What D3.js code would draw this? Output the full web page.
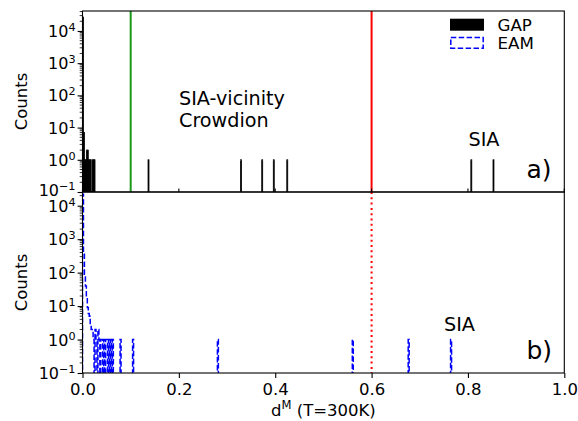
<!DOCTYPE html>
<html>
<head>
<meta charset="utf-8">
<script src="https://cdn.jsdelivr.net/npm/d3@7"></script>
<style>
  html, body { margin: 0; padding: 0; background: #fff; }
  svg { display: block; font-family: "DejaVu Sans", sans-serif; }
</style>
</head>
<body>
<svg id="chart" width="578" height="421"></svg>
<script>
// Histogram bins of the distance metric d^M (left bin edge, count)
const binWidth = 0.002;

const gapEdges  = [0.000, 0.002, 0.004, 0.006, 0.008, 0.010, 0.012, 0.014,
                   0.016, 0.020, 0.022, 0.024,
                   0.136, 0.328, 0.372, 0.396, 0.424, 0.806, 0.852];
const gapCounts = [27000, 7, 1, 1, 2, 2, 1, 1,
                   1, 1, 1, 1,
                   1, 1, 1, 1, 1, 1, 1];

const eamEdges  = [0.000, 0.002, 0.004, 0.006, 0.008, 0.010, 0.012, 0.014,
                   0.016, 0.018, 0.020, 0.022, 0.026, 0.028, 0.032, 0.034,
                   0.038, 0.040, 0.044, 0.048, 0.050, 0.054, 0.058, 0.062,
                   0.078, 0.104, 0.280, 0.560, 0.676, 0.764];
const eamCounts = [22000, 400, 90, 40, 18, 9, 6, 5,
                   3, 2, 2, 1, 2, 1, 2, 1,
                   1, 1, 1, 1, 1, 1, 1, 1,
                   1, 1, 1, 1, 1, 1];

// Reference markers
const vicinityCut = 0.1;
const siaCut = 0.6;

const xTicks = [0.0, 0.2, 0.4, 0.6, 0.8, 1.0];
const xTickLabels = ["0.0", "0.2", "0.4", "0.6", "0.8", "1.0"];
const yTickExps = [-1, 0, 1, 2, 3, 4];
const yMin = 0.1;
const yMaxTop = Math.pow(10, 4.62);
const yMaxBottom = Math.pow(10, 4.41);

const svg = d3.select("#chart");
const margin = { left: 82.5, right: 564.3 };
const panels = [
  { top: 11, bottom: 192, yMax: yMaxTop, tag: "a)" },
  { top: 192, bottom: 373, yMax: yMaxBottom, tag: "b)" }
];

const x = d3.scaleLinear().domain([0, 1]).range([margin.left, margin.right]);
panels.forEach(p => {
  p.y = d3.scaleLog().domain([yMin, p.yMax]).range([p.bottom, p.top]);
});

const tickFont = 16;
const labelFont = 16.5;
const noteFont = 19.2;
const defs = svg.append("defs");
panels.forEach((p, i) => {
  defs.append("clipPath").attr("id", "clip" + i)
    .append("rect")
    .attr("x", margin.left).attr("y", p.top)
    .attr("width", margin.right - margin.left).attr("height", p.bottom - p.top);
});

// ---- panel a): GAP filled bars ----
const pa = panels[0];
const ga = svg.append("g").attr("clip-path", "url(#clip0)");
const gapData = gapEdges.map((e, i) => ({ e, c: gapCounts[i] }));
ga.selectAll("rect.bar").data(gapData).join("rect")
  .attr("class", "bar")
  .attr("x", d => x(d.e))
  .attr("width", d => x(d.e + binWidth) - x(d.e))
  .attr("y", d => pa.y(d.c))
  .attr("height", d => pa.y(yMin) - pa.y(d.c))
  .attr("fill", "#000")
  .attr("stroke", "#000")
  .attr("stroke-width", 0.8);

ga.append("line")
  .attr("x1", x(vicinityCut)).attr("x2", x(vicinityCut))
  .attr("y1", pa.top).attr("y2", pa.bottom)
  .attr("stroke", "#1a991a").attr("stroke-width", 2);
ga.append("line")
  .attr("x1", x(siaCut)).attr("x2", x(siaCut))
  .attr("y1", pa.top).attr("y2", pa.bottom)
  .attr("stroke", "#ff0000").attr("stroke-width", 2);

// ---- panel b): EAM step outline ----
const pb = panels[1];
const gb = svg.append("g").attr("clip-path", "url(#clip1)");
const nBins = Math.round(d3.max(eamEdges) / binWidth) + 1;
const dense = new Array(nBins).fill(0);
eamEdges.forEach((e, i) => { dense[Math.round(e / binWidth)] = eamCounts[i]; });
const base = 1e-3;
const stepPts = [[0, base]];
dense.forEach((c, i) => {
  const v = c > 0 ? c : base;
  stepPts.push([i * binWidth, v]);
  stepPts.push([(i + 1) * binWidth, v]);
});
stepPts.push([nBins * binWidth, base]);
gb.append("path")
  .attr("d", d3.line().x(d => x(d[0])).y(d => Math.min(pb.y(d[1]), pb.bottom + 5))(stepPts))
  .attr("fill", "none")
  .attr("stroke", "#0000ff")
  .attr("stroke-width", 1.5)
  .attr("stroke-dasharray", "5.5,2.4");

gb.append("line")
  .attr("x1", x(siaCut)).attr("x2", x(siaCut))
  .attr("y1", pb.top).attr("y2", pb.bottom)
  .attr("stroke", "#ff0000").attr("stroke-width", 2)
  .attr("stroke-dasharray", "2,3.3");

// ---- axes ----
panels.forEach((p, i) => {
  const yAxis = d3.axisLeft(p.y)
    .tickValues(yTickExps.map(k => Math.pow(10, k)))
    .tickSize(4.9)
    .tickFormat(() => "");
  const gy = svg.append("g").attr("transform", `translate(${margin.left},0)`).call(yAxis);
  gy.select(".domain").remove();
  gy.selectAll(".tick line").attr("stroke", "#000").attr("stroke-width", 1.1);

  // minor ticks
  const minors = [];
  for (let k = -1; k <= 4; k++) for (let m = 2; m <= 9; m++) {
    const v = m * Math.pow(10, k);
    if (v <= p.yMax) minors.push(v);
  }
  svg.append("g").selectAll("line").data(minors).join("line")
    .attr("x1", margin.left - 2.8).attr("x2", margin.left)
    .attr("y1", d => p.y(d)).attr("y2", d => p.y(d))
    .attr("stroke", "#000").attr("stroke-width", 0.8);

  // tick labels 10^k; the lowest label of the upper panel sits a touch higher
  const lab = svg.append("g").selectAll("text").data(yTickExps).join("text")
    .attr("x", margin.left - 7)
    .attr("y", k => p.y(Math.pow(10, k)) + (i === 0 && k === -1 ? 4 : 6))
    .attr("text-anchor", "end")
    .attr("font-size", tickFont)
    .attr("fill", "#000");
  lab.append("tspan").text("10");
  lab.append("tspan").attr("dy", -6).attr("font-size", tickFont * 0.7)
    .text(k => k < 0 ? "\u2212" + Math.abs(k) : String(k));

  // y label
  svg.append("text")
    .attr("transform", `translate(27,${(p.top + p.bottom) / 2}) rotate(-90)`)
    .attr("text-anchor", "middle")
    .attr("font-size", labelFont)
    .text("Counts");

  // frame
  svg.append("rect")
    .attr("x", margin.left).attr("y", p.top)
    .attr("width", margin.right - margin.left).attr("height", p.bottom - p.top)
    .attr("fill", "none").attr("stroke", "#000").attr("stroke-width", 1.1);

  // panel tag
  svg.append("text")
    .attr("x", 526.5).attr("y", p.bottom - 14.5)
    .attr("font-size", 25)
    .text(p.tag);
});

// inner x ticks on panel a)
svg.append("g").selectAll("line").data(xTicks).join("line")
  .attr("x1", d => x(d)).attr("x2", d => x(d))
  .attr("y1", pa.bottom).attr("y2", pa.bottom - 3.5)
  .attr("stroke", "#000").attr("stroke-width", 1.1);

// bottom x axis
const xAxis = d3.axisBottom(x).tickValues(xTicks)
  .tickFormat((d, i) => xTickLabels[i]).tickSize(4.9).tickPadding(5);
const gx = svg.append("g").attr("transform", `translate(0,${pb.bottom})`).call(xAxis);
gx.select(".domain").remove();
gx.selectAll(".tick line").attr("stroke", "#000").attr("stroke-width", 1.1);
gx.selectAll(".tick text").attr("font-size", 16.5).attr("fill", "#000")
  .attr("font-family", "DejaVu Sans");

const xl = svg.append("text")
  .attr("x", x(0.5)).attr("y", 416)
  .attr("text-anchor", "middle").attr("font-size", labelFont);
xl.append("tspan").text("d");
xl.append("tspan").attr("dy", -7).attr("font-size", labelFont * 0.7).text("M");
xl.append("tspan").attr("dy", 7).text(" (T=300K)");

// annotations
svg.append("text").attr("x", 179).attr("y", 104.5).attr("font-size", noteFont).text("SIA-vicinity");
svg.append("text").attr("x", 179).attr("y", 127).attr("font-size", noteFont).text("Crowdion");
svg.append("text").attr("x", 468.5).attr("y", 145.5).attr("font-size", noteFont).text("SIA");
svg.append("text").attr("x", 444).attr("y", 330.7).attr("font-size", noteFont).text("SIA");

// legend
const legendFont = 16.7;
const lg = svg.append("g");
lg.append("rect").attr("x", 450).attr("y", 18.7).attr("width", 34).attr("height", 12)
  .attr("fill", "#000");
lg.append("rect").attr("x", 450.8).attr("y", 37.5).attr("width", 32.4).attr("height", 10.8)
  .attr("fill", "none").attr("stroke", "#0000ff").attr("stroke-width", 1.5)
  .attr("stroke-dasharray", "5.5,2.4");
lg.append("text").attr("x", 497.5).attr("y", 30.7).attr("font-size", legendFont).text("GAP");
lg.append("text").attr("x", 497.5).attr("y", 49).attr("font-size", legendFont).text("EAM");
</script>
</body>
</html>
